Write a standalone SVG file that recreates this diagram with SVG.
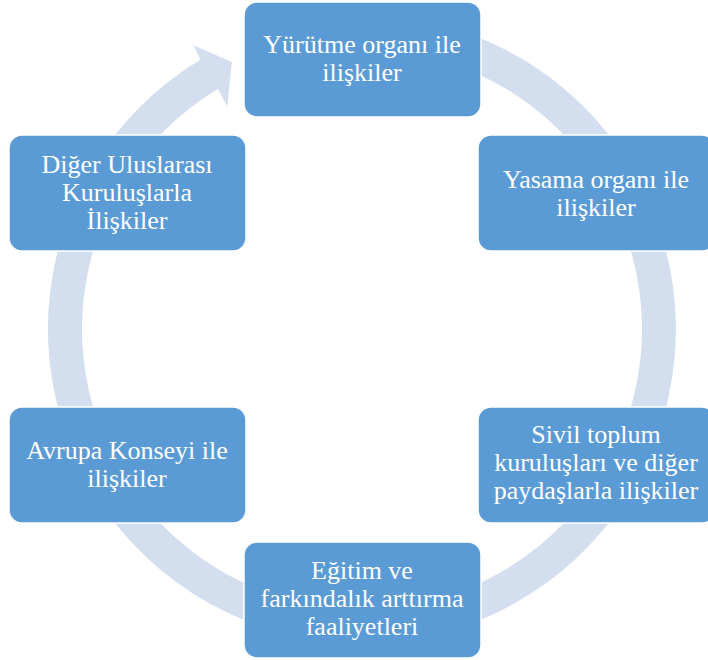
<svg xmlns="http://www.w3.org/2000/svg" width="708" height="660" viewBox="0 0 708 660">
<style>
.box{fill:#5B9BD5;stroke:#FFFFFF;stroke-width:1.5}
.t{font-size:26px;fill:#FFFFFF;text-anchor:middle}
.ring{fill:#D3DEEF;stroke:none}
</style>
<rect width="708" height="660" fill="#FFFFFF"/>
<g id="connectors">
<path class="ring" d="M362,15 A314,314 0 1 1 200.3,59.8 L193.5,45.2 L231.8,62.1 L227.3,106.6 L217.8,89 A280,280 0 1 0 362,49 Z"/>
</g>
<g font-family="Liberation Serif, serif">
<g id="node-yurutme">
<rect class="box" x="244" y="2" width="237" height="115" rx="13"/>
<text class="t" x="362" y="53">Yürütme organı ile</text>
<text class="t" x="362" y="81">ilişkiler</text>
</g>
<g id="node-yasama">
<rect class="box" x="478" y="135" width="237" height="116" rx="13"/>
<text class="t" x="596" y="188">Yasama organı ile</text>
<text class="t" x="596" y="216">ilişkiler</text>
</g>
<g id="node-sivil">
<rect class="box" x="478" y="407" width="237" height="116" rx="13"/>
<text class="t" x="596" y="443">Sivil toplum</text>
<text class="t" x="596" y="471">kuruluşları ve diğer</text>
<text class="t" x="596" y="499">paydaşlarla ilişkiler</text>
</g>
<g id="node-egitim">
<rect class="box" x="244" y="542" width="237" height="116" rx="13"/>
<text class="t" x="362" y="579">Eğitim ve</text>
<text class="t" x="362" y="607">farkındalık arttırma</text>
<text class="t" x="362" y="635">faaliyetleri</text>
</g>
<g id="node-avrupa">
<rect class="box" x="9" y="407" width="237" height="116" rx="13"/>
<text class="t" x="127" y="459">Avrupa Konseyi ile</text>
<text class="t" x="127" y="487">ilişkiler</text>
</g>
<g id="node-diger">
<rect class="box" x="9" y="135" width="237" height="116" rx="13"/>
<text class="t" x="127" y="173">Diğer Uluslarası</text>
<text class="t" x="127" y="201">Kuruluşlarla</text>
<text class="t" x="127" y="229">İlişkiler</text>
</g>
</g>
</svg>
